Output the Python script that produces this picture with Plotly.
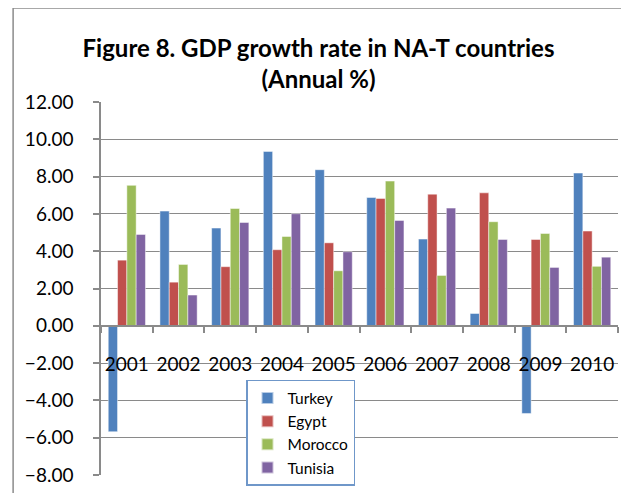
import plotly.graph_objects as go

years = ["2001", "2002", "2003", "2004", "2005", "2006", "2007", "2008", "2009", "2010"]
turkey = [-5.68, 6.15, 5.24, 9.35, 8.37, 6.88, 4.65, 0.66, -4.70, 8.19]
egypt = [3.52, 2.34, 3.17, 4.08, 4.45, 6.83, 7.06, 7.13, 4.63, 5.08]
morocco = [7.53, 3.29, 6.29, 4.79, 2.95, 7.76, 2.70, 5.58, 4.95, 3.19]
tunisia = [4.90, 1.65, 5.54, 6.01, 3.97, 5.65, 6.31, 4.63, 3.13, 3.68]

series = [
    ("Turkey", turkey, "#4F81BD"),
    ("Egypt", egypt, "#C0504D"),
    ("Morocco", morocco, "#9BBB59"),
    ("Tunisia", tunisia, "#8064A2"),
]

font_family = "Lato, 'Open Sans', sans-serif"
grid = "#8a8a8a"

# the html page has an 8px body margin, so the figure is 8px smaller
W, H = 621, 485

fig = go.Figure()
for name, vals, color in series:
    fig.add_trace(go.Bar(
        x=years, y=vals, name=name,
        marker=dict(color=color, line=dict(color="rgba(255,255,255,0.6)", width=0.8)),
    ))

fig.update_layout(
    width=W, height=H,
    barmode="group", bargap=0.28, bargroupgap=0,
    paper_bgcolor="white", plot_bgcolor="white",
    font=dict(family=font_family, color="black", size=19),
    margin=dict(l=93, r=11, t=94, b=18, autoexpand=False),
    title=dict(
        text="<b>Figure 8. GDP growth rate in NA-T countries</b><br><b>(Annual %)</b>",
        x=0.5, xref="container", xanchor="center",
        y=1 - 49 / H, yref="container", yanchor="top",
        font=dict(size=24, family=font_family, color="black"),
    ),
    showlegend=True,
    legend=dict(
        x=0.2805, y=0.2547, xanchor="left", yanchor="top",
        bgcolor="white", bordercolor="#6f97c9", borderwidth=1.5,
        font=dict(size=15.5, family=font_family, color="black"),
        tracegroupgap=0, itemsizing="constant",
    ),
    shapes=[dict(
        type="rect", xref="paper", yref="paper",
        x0=-0.170, x1=1.0077, y0=-0.2, y1=1.252,
        line=dict(color="#8c8c8c", width=1.5), layer="below",
    )],
)

fig.update_xaxes(
    type="category", automargin=False,
    anchor="free", position=0.4,
    showline=True, linecolor=grid, linewidth=1.5,
    ticks="outside", tickson="boundaries", ticklen=6, tickcolor=grid, tickwidth=1.5,
    ticklabelstandoff=22, tickangle=0,
    showgrid=False,
    tickfont=dict(size=19, color="black"),
)
fig.update_yaxes(
    range=[-8, 12], dtick=2, tickformat=".2f", automargin=False,
    showline=True, linecolor=grid, linewidth=1.5,
    ticks="outside", ticklen=6, tickcolor=grid, tickwidth=1.5,
    ticklabelstandoff=16,
    showgrid=True, gridcolor=grid, gridwidth=1.2,
    zeroline=False,
    tickfont=dict(size=19, color="black"),
)

fig.write_html("out.html")
